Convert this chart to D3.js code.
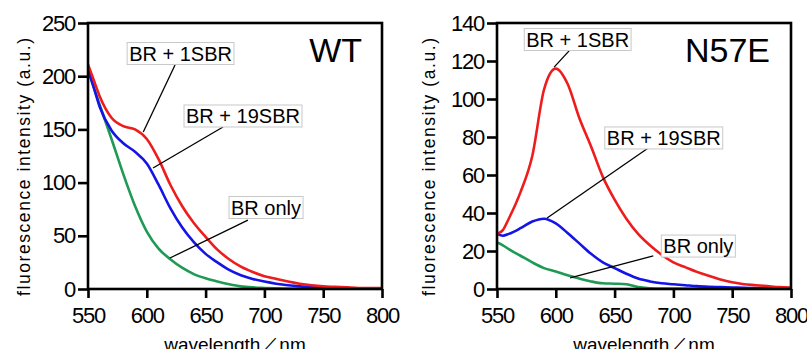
<!DOCTYPE html>
<html>
<head>
<meta charset="utf-8">
<script src="https://cdn.jsdelivr.net/npm/d3@7"></script>
<style>
  body { margin: 0; background: #fff; }
  svg { display: block; font-family: "Liberation Sans", Arial, sans-serif; }
</style>
</head>
<body>
<svg id="chart" width="807" height="349"></svg>
<script>
// wavelength grid (nm), shared by every curve
const wavelengths = [550, 555, 560, 570, 580, 590, 600, 610, 620, 630, 640, 650, 660, 670,
  680, 690, 700, 710, 720, 730, 740, 750, 760, 770, 780, 790, 800];

// WT
const wt1SBR = [211, 196, 181, 161, 153, 150, 141, 122, 98, 78, 62, 49, 37, 28,
  21, 16, 12, 9.5, 7, 5, 3.5, 2.5, 2, 1.5, 1, 1, 0.8];
const wt19SBR = [207, 189, 171, 149, 137, 129, 118, 98, 76, 58, 44, 33, 25, 18,
  13, 9.5, 7, 5, 3.5, 2.5, 2, 1.5, 1, 0.8, 0.6, 0.5, 0.5];
const wtOnly = [205, 189, 173, 141, 108, 78, 54, 38, 28, 20, 14, 10, 7, 4.5,
  2.5, 1.5, 1, 0.6, 0.4, 0.3, 0.2, 0.2, 0.2, 0.2, 0.2, 0.2, 0.2];

// N57E
const n57e1SBR = [29, 31, 37, 51, 70, 105, 116, 108, 90, 75, 59, 47, 37, 29,
  23, 18, 14, 11.5, 9, 7, 5, 3.5, 2.5, 2, 1.5, 1, 0.8];
const n57e19SBR = [29, 28, 29, 32, 35.5, 37, 34.5, 29.5, 24, 18.5, 14, 11, 8, 5.5,
  4, 3, 2.5, 2, 1.5, 1.2, 1, 0.8, 0.6, 0.5, 0.5, 0.4, 0.4];
const n57eOnly = [24.5, 23, 21, 17.5, 14, 11, 9.2, 7.2, 5.5, 4, 3, 2.8, 2.5, 1,
  0.4, 0.2, 0.2, 0.2, 0.2, 0.2, 0.2, 0.2, 0.2, 0.2, 0.2, 0.2, 0.2];

const xTicks = [550, 600, 650, 700, 750, 800];
const wtYTicks = [0, 50, 100, 150, 200, 250];
const n57eYTicks = [0, 20, 40, 60, 80, 100, 120, 140];

// labels with leader lines, in data units: text centre, line start, line end
const wtNotes = [
  { text: 'BR + 1SBR', at: [628.7, 221.3], from: [624, 210.5], to: [597, 147.5] },
  { text: 'BR + 19SBR', at: [681.8, 162.6], from: [664.8, 152.3], to: [605.3, 113.7] },
  { text: 'BR only', at: [701.4, 76.6], from: [686, 64.8], to: [619.7, 29.1] }
];
const n57eNotes = [
  { text: 'BR + 1SBR', at: [618.6, 131.3], from: [611.3, 125.3], to: [598.6, 116.8] },
  { text: 'BR + 19SBR', at: [691.8, 79.5], from: [678.6, 74.2], to: [592.6, 37.4] },
  { text: 'BR only', at: [721.2, 22.6], from: [682.9, 17.4], to: [612.2, 5.8] }
];

const colors = { one: '#ee1c1c', nineteen: '#1414e6', only: '#1f9a55' };

const svg = d3.select('#chart');

function drawPanel(opt) {
  const { left, right, top, bottom } = opt;
  const x = d3.scaleLinear().domain([550, 800]).range([left, right]);
  const y = d3.scaleLinear().domain([0, opt.yMax]).range([bottom, top]);

  const g = svg.append('g');
  const clipId = 'clip-' + opt.name;
  g.append('clipPath').attr('id', clipId)
    .append('rect')
    .attr('x', left).attr('y', top)
    .attr('width', right - left).attr('height', bottom - top);

  const line = d3.line()
    .x(d => x(d[0]))
    .y(d => y(d[1]))
    .curve(d3.curveMonotoneX);

  const series = [
    { vals: opt.only, color: colors.only },
    { vals: opt.nineteen, color: colors.nineteen },
    { vals: opt.one, color: colors.one }
  ];
  g.append('g').attr('clip-path', `url(#${clipId})`)
    .selectAll('path')
    .data(series)
    .join('path')
    .attr('d', s => line(wavelengths.map((w, i) => [w, s.vals[i]])))
    .attr('fill', 'none')
    .attr('stroke', s => s.color)
    .attr('stroke-width', 2.6)
    .attr('stroke-linejoin', 'round');

  // frame
  g.append('rect')
    .attr('x', left).attr('y', top)
    .attr('width', right - left).attr('height', bottom - top)
    .attr('fill', 'none')
    .attr('stroke', '#000')
    .attr('stroke-width', 2.6);

  const xAxis = g.append('g')
    .attr('transform', `translate(0,${bottom})`)
    .call(d3.axisBottom(x).tickValues(xTicks).tickSize(9).tickSizeOuter(0).tickPadding(9));
  const yAxis = g.append('g')
    .attr('transform', `translate(${left},0)`)
    .call(d3.axisLeft(y).tickValues(opt.yTicks).tickSize(10).tickSizeOuter(0).tickPadding(3));
  [xAxis, yAxis].forEach(a => {
    a.select('.domain').remove();
    a.selectAll('line').attr('stroke', '#000').attr('stroke-width', 2.6);
    a.selectAll('text')
      .attr('fill', '#000')
      .style('font-size', '22px')
      .style('letter-spacing', '-1.2px')
      .style('font-family', '"Liberation Sans", Arial, sans-serif');
  });

  // axis titles
  g.append('text')
    .attr('transform', `translate(${opt.yLabelX},${(top + bottom) / 2 + 11}) rotate(-90)`)
    .attr('text-anchor', 'middle')
    .attr('dy', '0.35em')
    .attr('textLength', 258)
    .style('font-size', '17.5px')
    .text('fluorescence intensity (a.u.)');

  g.append('text')
    .attr('x', (left + right) / 2)
    .attr('y', 351)
    .attr('text-anchor', 'middle')
    .style('font-size', '19px')
    .text('wavelength／nm');

  // panel title
  g.append('text')
    .attr('x', right - opt.titleInset)
    .attr('y', 62)
    .attr('text-anchor', 'end')
    .style('font-size', '34px')
    .text(opt.title);

  // leader lines + boxed labels
  g.append('g')
    .selectAll('line')
    .data(opt.notes)
    .join('line')
    .attr('x1', d => x(d.from[0])).attr('y1', d => y(d.from[1]))
    .attr('x2', d => x(d.to[0])).attr('y2', d => y(d.to[1]))
    .attr('stroke', '#000')
    .attr('stroke-width', 1.3);

  const notes = g.append('g')
    .selectAll('g')
    .data(opt.notes)
    .join('g')
    .attr('transform', d => `translate(${x(d.at[0])},${y(d.at[1])})`);
  const texts = notes.append('text')
    .attr('text-anchor', 'middle')
    .attr('dy', '0.36em')
    .style('font-size', '20px')
    .text(d => d.text);
  texts.each(function () {
    const b = this.getBBox();
    d3.select(this.parentNode).insert('rect', 'text')
      .attr('x', b.x - 2).attr('y', -11)
      .attr('width', b.width + 4).attr('height', 22)
      .attr('fill', '#fff')
      .attr('stroke', '#c8c8c8')
      .attr('stroke-width', 1);
  });
}

drawPanel({
  name: 'wt', title: 'WT', left: 88, right: 382, top: 23, bottom: 289,
  yMax: 250, yTicks: wtYTicks, yLabelX: 24, titleInset: 20,
  one: wt1SBR, nineteen: wt19SBR, only: wtOnly, notes: wtNotes
});
drawPanel({
  name: 'n57e', title: 'N57E', left: 497, right: 791, top: 23, bottom: 289,
  yMax: 140, yTicks: n57eYTicks, yLabelX: 429, titleInset: 21,
  one: n57e1SBR, nineteen: n57e19SBR, only: n57eOnly, notes: n57eNotes
});
</script>
</body>
</html>
